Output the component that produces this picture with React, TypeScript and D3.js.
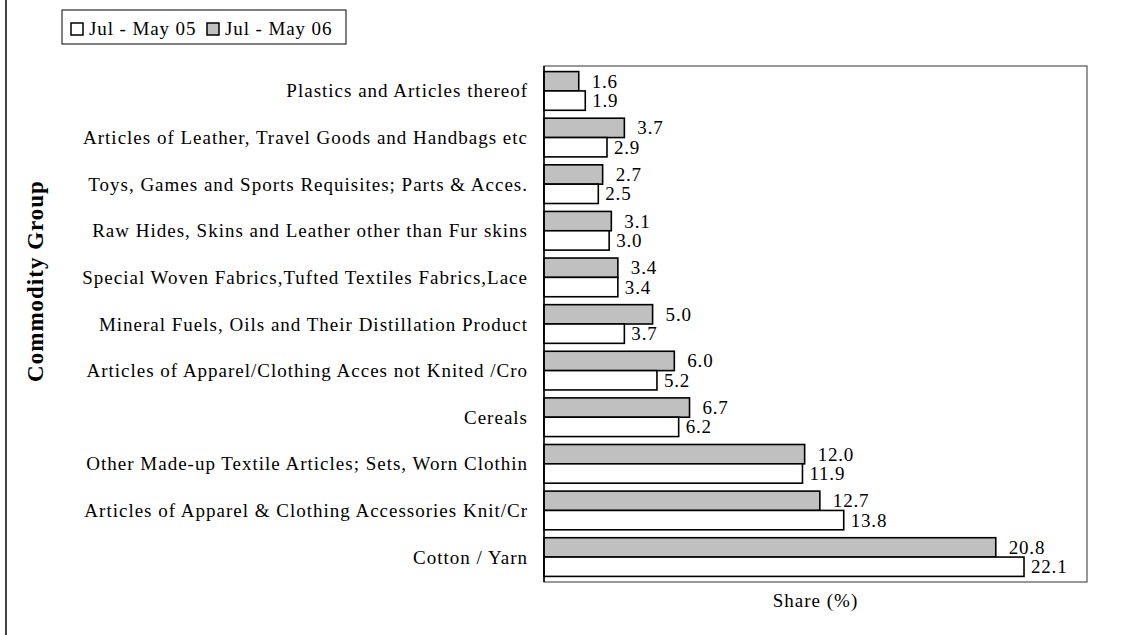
import { useEffect, useRef } from "react"
import * as d3 from "d3"

// categories top to bottom, as shown
const categories = [
  "Plastics and Articles thereof",
  "Articles of Leather, Travel Goods and Handbags etc",
  "Toys, Games and Sports Requisites; Parts & Acces.",
  "Raw Hides, Skins and Leather other than Fur skins",
  "Special Woven Fabrics,Tufted Textiles Fabrics,Lace",
  "Mineral Fuels, Oils and Their Distillation Product",
  "Articles of Apparel/Clothing Acces not Knited /Cro",
  "Cereals",
  "Other Made-up Textile Articles; Sets, Worn Clothin",
  "Articles of Apparel & Clothing Accessories Knit/Cr",
  "Cotton / Yarn",
]

const share05 = [1.9, 2.9, 2.5, 3.0, 3.4, 3.7, 5.2, 6.2, 11.9, 13.8, 22.1]
const share06 = [1.6, 3.7, 2.7, 3.1, 3.4, 5.0, 6.0, 6.7, 12.0, 12.7, 20.8]

const seriesNames = ["Jul - May 05", "Jul - May 06"]
const seriesFill = ["#ffffff", "#c0c0c0"]

const W = 1138
const H = 635
const FONT = "'Liberation Serif', 'Times New Roman', serif"

export default function App() {
  const svgRef = useRef<SVGSVGElement>(null)

  useEffect(() => {
    if (!svgRef.current) return
    const svg = d3.select(svgRef.current)
    svg.selectAll("*").remove()

    const plot = { left: 544, right: 1087, top: 66, bottom: 582 }

    const x = d3.scaleLinear().domain([0, 25]).range([plot.left, plot.right])
    const y = d3
      .scaleBand<string>()
      .domain(categories)
      .range([plot.top, plot.bottom])
      .paddingInner(0.17)
      .paddingOuter(0.12)
    // 06 drawn above 05 inside each group
    const sub = d3.scaleBand<string>().domain(["06", "05"]).range([0, y.bandwidth()])

    // left edge of the outer frame
    svg.append("line")
      .attr("x1", 6).attr("x2", 6).attr("y1", 0).attr("y2", H)
      .attr("stroke", "#404040").attr("stroke-width", 2)

    // plot frame
    svg.append("rect")
      .attr("x", plot.left).attr("y", plot.top)
      .attr("width", plot.right - plot.left).attr("height", plot.bottom - plot.top)
      .attr("fill", "none").attr("stroke", "#333").attr("stroke-width", 1)

    const rows = categories.map((c, i) => ({ c, v05: share05[i], v06: share06[i] }))

    const g = svg.append("g").selectAll("g").data(rows).enter().append("g")

    const bars = [
      { key: "06", fill: seriesFill[1], get: (d: any) => d.v06, off: 13 },
      { key: "05", fill: seriesFill[0], get: (d: any) => d.v05, off: 7 },
    ]

    bars.forEach((b) => {
      g.append("rect")
        .attr("x", x(0))
        .attr("y", (d) => y(d.c)! + sub(b.key)!)
        .attr("width", (d) => x(b.get(d)) - x(0))
        .attr("height", sub.bandwidth())
        .attr("fill", b.fill)
        .attr("stroke", "#000")
        .attr("stroke-width", 1.6)

      g.append("text")
        .attr("x", (d) => x(b.get(d)) + b.off)
        .attr("y", (d) => y(d.c)! + sub(b.key)! + sub.bandwidth() / 2)
        .attr("dominant-baseline", "central")
        .attr("font-family", FONT)
        .attr("font-size", 19)
        .attr("letter-spacing", 0.8)
        .attr("fill", "#000")
        .text((d) => b.get(d).toFixed(1))
    })

    // axis line on the left
    svg.append("line")
      .attr("x1", plot.left).attr("x2", plot.left)
      .attr("y1", plot.top).attr("y2", plot.bottom)
      .attr("stroke", "#000").attr("stroke-width", 1.5)

    // category labels
    svg.append("g").selectAll("text").data(categories).enter().append("text")
      .attr("x", plot.left - 16)
      .attr("y", (d) => y(d)! + y.bandwidth() / 2)
      .attr("text-anchor", "end")
      .attr("dominant-baseline", "central")
      .attr("font-family", FONT)
      .attr("font-size", 19)
      .attr("letter-spacing", 1)
      .attr("fill", "#000")
      .text((d) => d)

    // axis titles
    svg.append("text")
      .attr("transform", `translate(43, 281) rotate(-90)`)
      .attr("text-anchor", "middle")
      .attr("font-family", FONT)
      .attr("font-size", 23)
      .attr("letter-spacing", 1)
      .attr("font-weight", "bold")
      .text("Commodity Group")

    svg.append("text")
      .attr("x", (plot.left + plot.right) / 2)
      .attr("y", 607)
      .attr("text-anchor", "middle")
      .attr("font-family", FONT)
      .attr("font-size", 19)
      .attr("letter-spacing", 1)
      .text("Share (%)")

    // legend
    const leg = svg.append("g")
    leg.append("rect")
      .attr("x", 62).attr("y", 10).attr("width", 284).attr("height", 34)
      .attr("fill", "#fff").attr("stroke", "#000").attr("stroke-width", 1)
    const legX = [71, 207]
    seriesNames.forEach((s, i) => {
      leg.append("rect")
        .attr("x", legX[i]).attr("y", 23).attr("width", 12).attr("height", 12)
        .attr("fill", seriesFill[i]).attr("stroke", "#000").attr("stroke-width", 1.5)
      leg.append("text")
        .attr("x", legX[i] + 18).attr("y", 35)
        .attr("font-family", FONT)
        .attr("font-size", 19)
        .attr("letter-spacing", 0.9)
        .text(s)
    })
  }, [])

  return (
    <svg
      ref={svgRef}
      width={W}
      height={H}
      style={{ position: "absolute", left: 0, top: 0, background: "#fff" }}
    />
  )
}
